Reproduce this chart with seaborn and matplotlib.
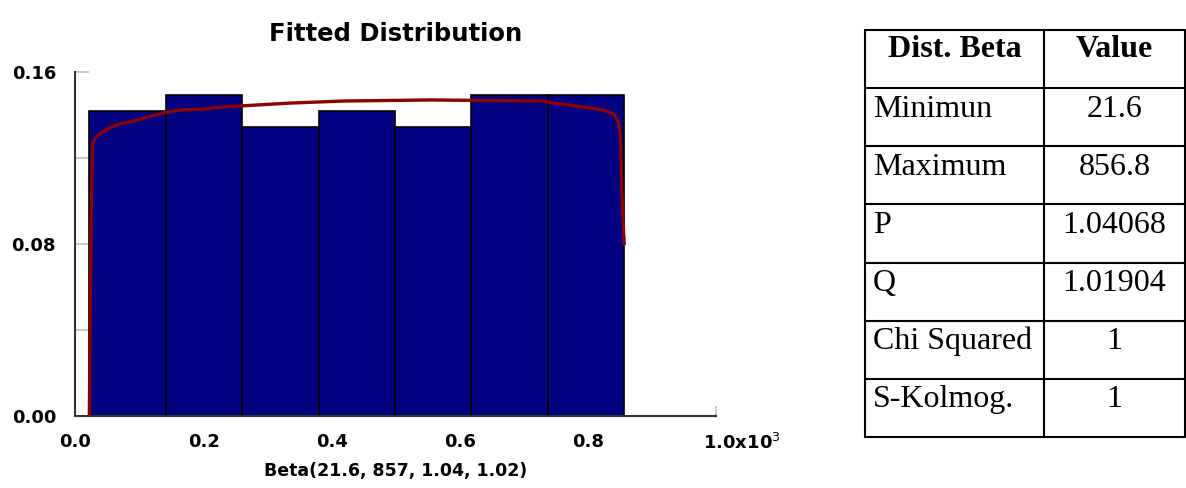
'''
    Histograma con distribucion Beta ajustada y tabla de parametros
'''

import pandas as pd
import matplotlib
matplotlib.use('Agg')
import matplotlib.pyplot as plt
import matplotlib.transforms as mtransforms
import seaborn as sns

# Datos del histograma (frecuencia relativa por clase)
x_min, x_max = 21.6, 856.8
n_bins = 7
rel_freq = [0.1418, 0.1493, 0.1343, 0.1418, 0.1343, 0.1493, 0.1493]

# Curva ajustada, puntos
curve_x = [21.6, 22.5, 24.5, 26.9, 30.5, 40.9, 53.9, 69.5, 89.8, 111.7, 136.7,
           163.0, 199.0, 230.5, 257.0, 332.0, 418.0, 554.0, 730.0, 746.0,
           773.0, 799.0, 824.0, 840.0, 848.0, 851.0, 852.5, 855.0, 856.8]
curve_y = [0.0, 0.032, 0.095, 0.127, 0.129, 0.132, 0.134, 0.136, 0.137, 0.139, 0.141,
           0.1423, 0.1428, 0.1437, 0.1442, 0.1455, 0.1465, 0.147, 0.1465, 0.1455,
           0.1446, 0.1434, 0.1423, 0.1405, 0.1367, 0.129, 0.108, 0.0897, 0.080]

# Tabla de parametros
table_header = ['Dist. Beta', 'Value']
table_labels = ['Minimun', 'Maximum', 'P', 'Q', 'Chi Squared', 'S-Kolmog.']
table_values = ['21.6', '856.8', '1.04068', '1.01904', '1', '1']

sns.set_style('ticks')
plt.rcParams['font.family'] = 'DejaVu Sans'
plt.rcParams['text.color'] = 'black'
plt.rcParams['axes.labelcolor'] = 'black'
plt.rcParams['xtick.labelcolor'] = 'black'
plt.rcParams['ytick.labelcolor'] = 'black'

fig = plt.figure(figsize=(11.86, 4.88), dpi=100)
ax = fig.add_axes([75.5 / 1186, 72 / 488, (716 - 75.5) / 1186, (416 - 72) / 488])

# Histograma
bin_w = (x_max - x_min) / n_bins
hist_df = pd.DataFrame({'center': [x_min + bin_w * (i + 0.5) for i in range(n_bins)],
                        'freq': rel_freq})
sns.histplot(data=hist_df, x='center', weights='freq', bins=n_bins,
             binrange=(x_min, x_max), color='#000080', edgecolor='black',
             linewidth=1.2, alpha=1, ax=ax)
# Curva ajustada
sns.lineplot(x=curve_x, y=curve_y, color='#8b0000', linewidth=2.4, sort=False, ax=ax)

ax.set_xlim(0, 1000)
ax.set_ylim(0, 0.16)
ax.set_xticks([0, 200, 400, 600, 800, 1000])
ax.set_xticklabels(['0.0', '0.2', '0.4', '0.6', '0.8', '1.0x10$^3$'])
ax.set_yticks([0, 0.08, 0.16])
ax.set_yticklabels(['0.00', '0.08', '0.16'])
ax.set_yticks([0.04, 0.12], minor=True)
for lab in ax.get_xticklabels() + ax.get_yticklabels():
    lab.set_fontweight('bold')
ax.tick_params(axis='x', direction='in', length=7, width=1.2, color='#c0c0c0',
               labelsize=13, pad=12)
ax.tick_params(axis='y', which='both', direction='in', length=10, width=1.2,
               color='#c0c0c0', labelsize=13, pad=14)
# la ultima etiqueta queda desplazada a la derecha
last = ax.get_xticklabels()[-1]
last.set_horizontalalignment('left')
last.set_transform(last.get_transform() +
                   mtransforms.ScaledTranslation(-13 / 100, 0, fig.dpi_scale_trans))

sns.despine(ax=ax)
for s in ['left', 'bottom']:
    ax.spines[s].set_linewidth(1.5)
    ax.spines[s].set_color('#333333')

ax.set_ylabel('')
ax.set_xlabel('Beta(21.6, 857, 1.04, 1.02)', fontsize=12.5, fontweight='bold', labelpad=7)
ax.set_title('Fitted Distribution', fontsize=17.5, fontweight='bold', pad=22)

# Tabla a la derecha
tab = fig.add_axes([865 / 1186, 51 / 488, 320 / 1186, 407 / 488])
tab.set_xlim(0, 1)
tab.set_ylim(7, 0)
tab.axis('off')
col_split = 179 / 320
for i in range(8):
    tab.plot([0, 1], [i, i], color='black', linewidth=1.5, clip_on=False)
for xv in [0, col_split, 1]:
    tab.plot([xv, xv], [0, 7], color='black', linewidth=1.5, clip_on=False)

serif = 'Liberation Serif'
tab.text(col_split / 2, 0.33, table_header[0], ha='center', va='center',
         fontsize=23, fontweight='bold', family=serif)
tab.text((col_split + 1) / 2, 0.33, table_header[1], ha='center', va='center',
         fontsize=23, fontweight='bold', family=serif)
for i, (lab, val) in enumerate(zip(table_labels, table_values)):
    tab.text(0.025, i + 1.36, lab, ha='left', va='center', fontsize=23, family=serif)
    tab.text((col_split + 1) / 2, i + 1.36, val, ha='center', va='center',
             fontsize=23, family=serif)

plt.savefig('out.png', dpi=100)
